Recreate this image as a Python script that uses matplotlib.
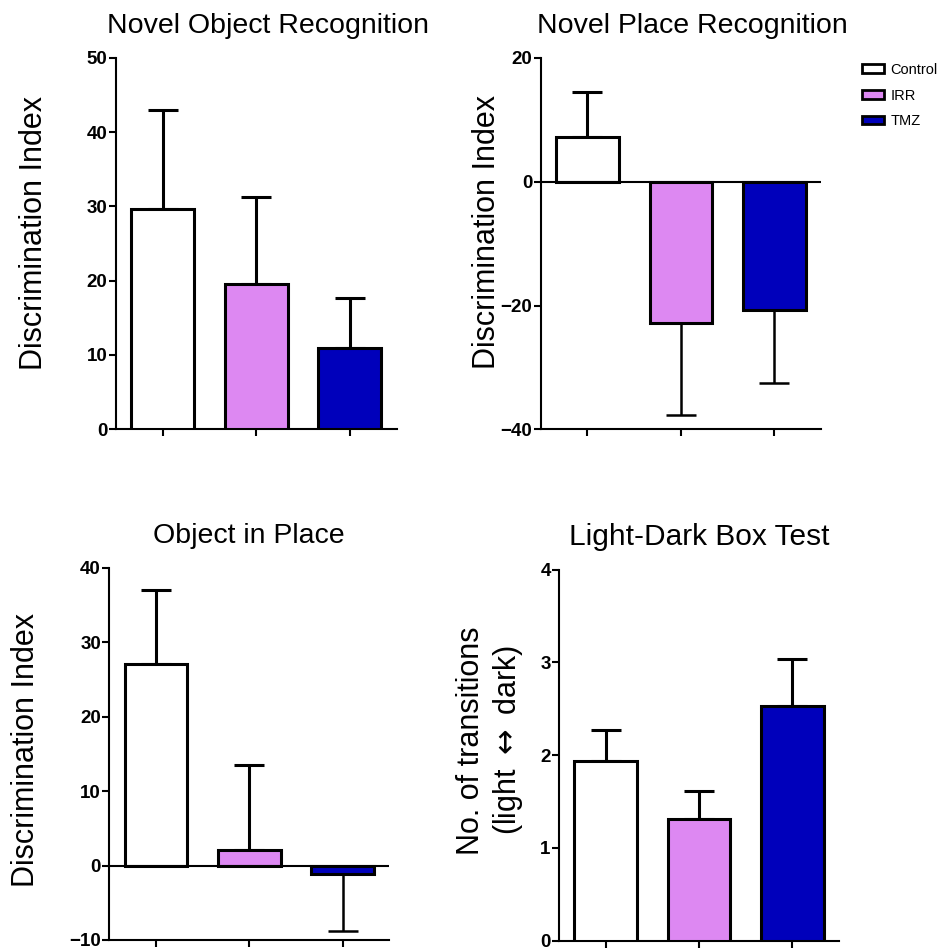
import matplotlib
matplotlib.use("Agg")
import matplotlib.pyplot as plt
from matplotlib.patches import Patch

plt.rcParams['font.family'] = ['Liberation Sans', 'DejaVu Sans']

groups = ["Control", "IRR", "TMZ"]
colors = ["#ffffff", "#dd88f2", "#0000bb"]

nor_mean = [29.6, 19.6, 11.0]
nor_err = [13.4, 11.7, 6.6]
npr_mean = [7.2, -22.8, -20.8]
npr_err = [7.3, 14.9, 11.8]
oip_mean = [27.0, 2.15, -1.13]
oip_err = [10.0, 11.4, 7.7]
ldb_mean = [1.94, 1.31, 2.53]
ldb_err = [0.33, 0.30, 0.51]

titles = ["Novel Object Recognition", "Novel Place Recognition",
          "Object in Place", "Light-Dark Box Test"]
ylabels = ["Discrimination Index", "Discrimination Index",
           "Discrimination Index", "No. of transitions\n(light $\\leftrightarrow$ dark)"]
ylims = [(0, 50), (-40, 20), (-10, 40), (0, 4)]
yticks = [[0, 10, 20, 30, 40, 50], [-40, -20, 0, 20],
          [-10, 0, 10, 20, 30, 40], [0, 1, 2, 3, 4]]
means = [nor_mean, npr_mean, oip_mean, ldb_mean]
errs = [nor_err, npr_err, oip_err, ldb_err]

W, H = 943, 951
fig = plt.figure(figsize=(W / 100, H / 100), dpi=100)

# pixel boxes: left, top, right, bottom
boxes = [(115.7, 57.7, 396.7, 429.3), (540.7, 57.9, 821.0, 429.3),
         (109.3, 567.7, 389.3, 940.0), (559.0, 569.7, 839.0, 940.7)]
title_x = [0.542, 0.54, 0.5, 0.5]
title_fs = [20.5, 20.5, 20.5, 21.5]
ylab_pos = [(-0.237, 0.528), (-0.138, 0.53), (-0.244, 0.51), (-0.121, 0.54)]

for i in range(4):
    l, t, r, b = boxes[i]
    ax = fig.add_axes([l / W, 1 - b / H, (r - l) / W, (b - t) / H])
    x = list(range(3))
    ax.bar(x, means[i], width=0.67, color=colors, edgecolor="black",
           linewidth=2.2, zorder=3)
    for xi, m, e in zip(x, means[i], errs[i]):
        lo = [0] if m >= 0 else [e]
        hi = [e] if m >= 0 else [0]
        ax.errorbar([xi], [m], yerr=[lo, hi], fmt="none", ecolor="black",
                    elinewidth=2.2 if m >= 0 else 1.8, capsize=11,
                    capthick=2.2 if m >= 0 else 1.8, zorder=2)
    ax.set_xlim(-0.5, 2.5)
    ax.set_ylim(*ylims[i])
    ax.set_yticks(yticks[i])
    ax.set_xticks(x)
    ax.set_xticklabels([])
    for s in ["top", "right"]:
        ax.spines[s].set_visible(False)
    ax.spines["left"].set_linewidth(1.5)
    ax.spines["bottom"].set_linewidth(1.5)
    if ylims[i][0] < 0:
        ax.axhline(0, color="black", linewidth=1.5, zorder=4)
    ax.tick_params(axis="y", direction="out", length=5, width=1.5,
                   labelsize=13.5, pad=1)
    ax.tick_params(axis="x", direction="out", length=5, width=1.5)
    for lab in ax.get_yticklabels():
        lab.set_fontweight("bold")
    ax.set_title(titles[i], fontsize=title_fs[i], x=title_x[i], pad=18)
    ax.set_ylabel(ylabels[i], fontsize=22,
                  linespacing=1.0 if i < 3 else 1.2)
    ax.yaxis.set_label_coords(*ylab_pos[i])
    ax.patch.set_alpha(0)

handles = [Patch(facecolor=c, edgecolor="black", linewidth=2.0) for c in colors]
fig.legend(handles, groups, loc="upper left",
           bbox_to_anchor=(856 / W, 1 - 57 / H), frameon=False,
           fontsize=10.5, handlelength=1.5, handleheight=0.55,
           labelspacing=0.8, handletextpad=0.45, borderaxespad=0)

fig.savefig("out.png", dpi=100)
